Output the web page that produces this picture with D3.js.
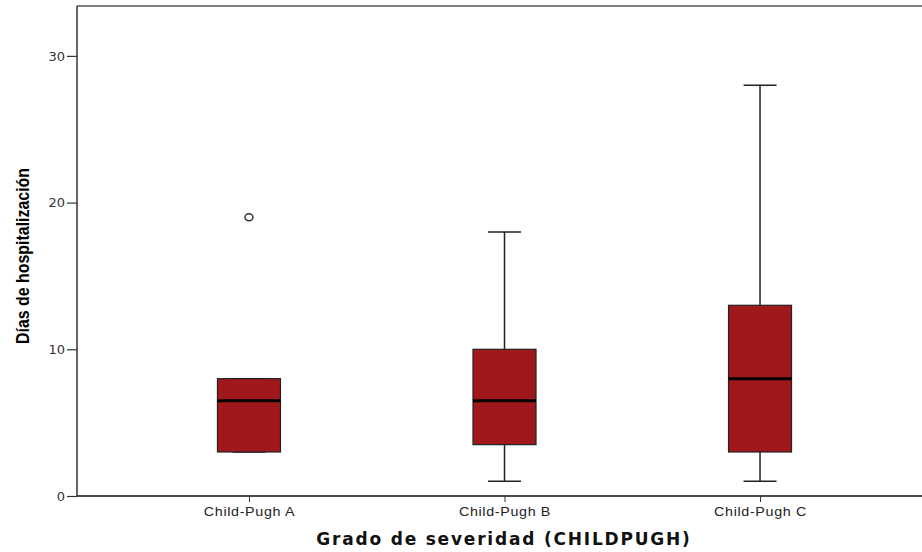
<!DOCTYPE html>
<html lang="es">
<head>
  <meta charset="UTF-8">
  <title>Días de hospitalización por grado de severidad</title>
  <script src="https://d3js.org/d3.v7.min.js"></script>
  <style>
    body { margin: 0; background: #fff; }
    svg { display: block; }
  </style>
</head>
<body>
  <script>
    // datos
    const categories = ["Child-Pugh A", "Child-Pugh B", "Child-Pugh C"];
    const whiskerLow = [3, 1, 1];
    const q1 = [3, 3.5, 3];
    const median = [6.5, 6.5, 8];
    const q3 = [8, 10, 13];
    const whiskerHigh = [8, 18, 28];
    const outliers = [[19], [], []];
    const yTicks = [0, 10, 20, 30];

    const width = 922, height = 552;
    const margin = { top: 6, right: -10, bottom: 56, left: 77 };

    const svg = d3.select("body").append("svg")
      .attr("width", width)
      .attr("height", height);

    const x = d3.scalePoint()
      .domain(categories)
      .range([margin.left, width - margin.right])
      .padding(0.673);

    const y = d3.scaleLinear()
      .domain([0, 33.4])
      .range([height - margin.bottom, margin.top]);

    const boxW = 63, capW = 33;

    const boxes = categories.map((c, i) => ({
      cat: c, lo: whiskerLow[i], q1: q1[i], med: median[i], q3: q3[i], hi: whiskerHigh[i], out: outliers[i]
    }));

    // marco superior
    svg.append("line")
      .attr("x1", margin.left).attr("x2", width)
      .attr("y1", margin.top).attr("y2", margin.top)
      .attr("stroke", "#555").attr("stroke-width", 1.5);

    // eje y
    const yAxis = svg.append("g")
      .attr("transform", `translate(${margin.left},0)`)
      .call(d3.axisLeft(y).tickValues(yTicks).tickSize(10).tickPadding(2));
    yAxis.select(".domain").attr("stroke", "#333").attr("stroke-width", 1.5)
      .attr("d", `M0,${y(0)}V${margin.top}`);
    yAxis.selectAll(".tick line").attr("stroke", "#333").attr("stroke-width", 1.2);
    yAxis.selectAll(".tick text")
      .attr("font-family", "DejaVu Sans, sans-serif")
      .attr("font-size", 13).attr("fill", "#333");

    // eje x
    const xAxis = svg.append("g")
      .attr("transform", `translate(0,${y(0)})`)
      .call(d3.axisBottom(x).tickSize(6).tickPadding(5));
    xAxis.select(".domain").attr("stroke", "#111").attr("stroke-width", 1.5)
      .attr("d", `M${margin.left},0H${width}`);
    xAxis.selectAll(".tick line").attr("stroke", "#333");
    xAxis.selectAll(".tick text")
      .attr("font-family", "Liberation Sans, Arial, sans-serif")
      .attr("font-size", 13).attr("fill", "#222")
      .attr("transform", "scale(1.1,1)")
      .style("letter-spacing", "0.6px");

    const g = svg.append("g").selectAll("g")
      .data(boxes).join("g")
      .attr("transform", d => `translate(${x(d.cat)},0)`);

    // bigotes
    g.append("line")
      .attr("x1", 0).attr("x2", 0)
      .attr("y1", d => y(d.lo)).attr("y2", d => y(d.hi))
      .attr("stroke", "#222").attr("stroke-width", 1.5);
    g.selectAll("line.cap")
      .data(d => [d.lo, d.hi]).join("line")
      .attr("class", "cap")
      .attr("x1", -capW / 2).attr("x2", capW / 2)
      .attr("y1", v => y(v)).attr("y2", v => y(v))
      .attr("stroke", "#222").attr("stroke-width", 1.5);

    // cajas
    g.append("rect")
      .attr("x", -boxW / 2).attr("width", boxW)
      .attr("y", d => y(d.q3)).attr("height", d => y(d.q1) - y(d.q3))
      .attr("fill", "#a0181b").attr("stroke", "#222").attr("stroke-width", 1.2);

    // mediana
    g.append("line")
      .attr("x1", -boxW / 2).attr("x2", boxW / 2)
      .attr("y1", d => y(d.med)).attr("y2", d => y(d.med))
      .attr("stroke", "#000").attr("stroke-width", 3);

    // atípicos
    g.selectAll("ellipse")
      .data(d => d.out).join("ellipse")
      .attr("cx", 0).attr("cy", v => y(v))
      .attr("rx", 4).attr("ry", 3.5)
      .attr("fill", "none").attr("stroke", "#333").attr("stroke-width", 1.5);

    // títulos de ejes
    svg.append("text")
      .attr("transform", `translate(29,${(y(0) + margin.top) / 2 + 5}) rotate(-90)`)
      .attr("text-anchor", "middle")
      .attr("font-family", "Liberation Sans, Arial, sans-serif")
      .attr("font-weight", "bold")
      .attr("font-size", 19).attr("fill", "#000")
      .attr("textLength", 176).attr("lengthAdjust", "spacingAndGlyphs")
      .text("Días de hospitalización");

    svg.append("text")
      .attr("x", 504).attr("y", 545)
      .attr("text-anchor", "middle")
      .attr("font-family", "DejaVu Sans, sans-serif")
      .attr("font-weight", "bold")
      .attr("font-size", 17).attr("fill", "#111")
      .style("letter-spacing", "1.8px")
      .text("Grado de severidad (CHILDPUGH)");
  </script>
</body>
</html>
